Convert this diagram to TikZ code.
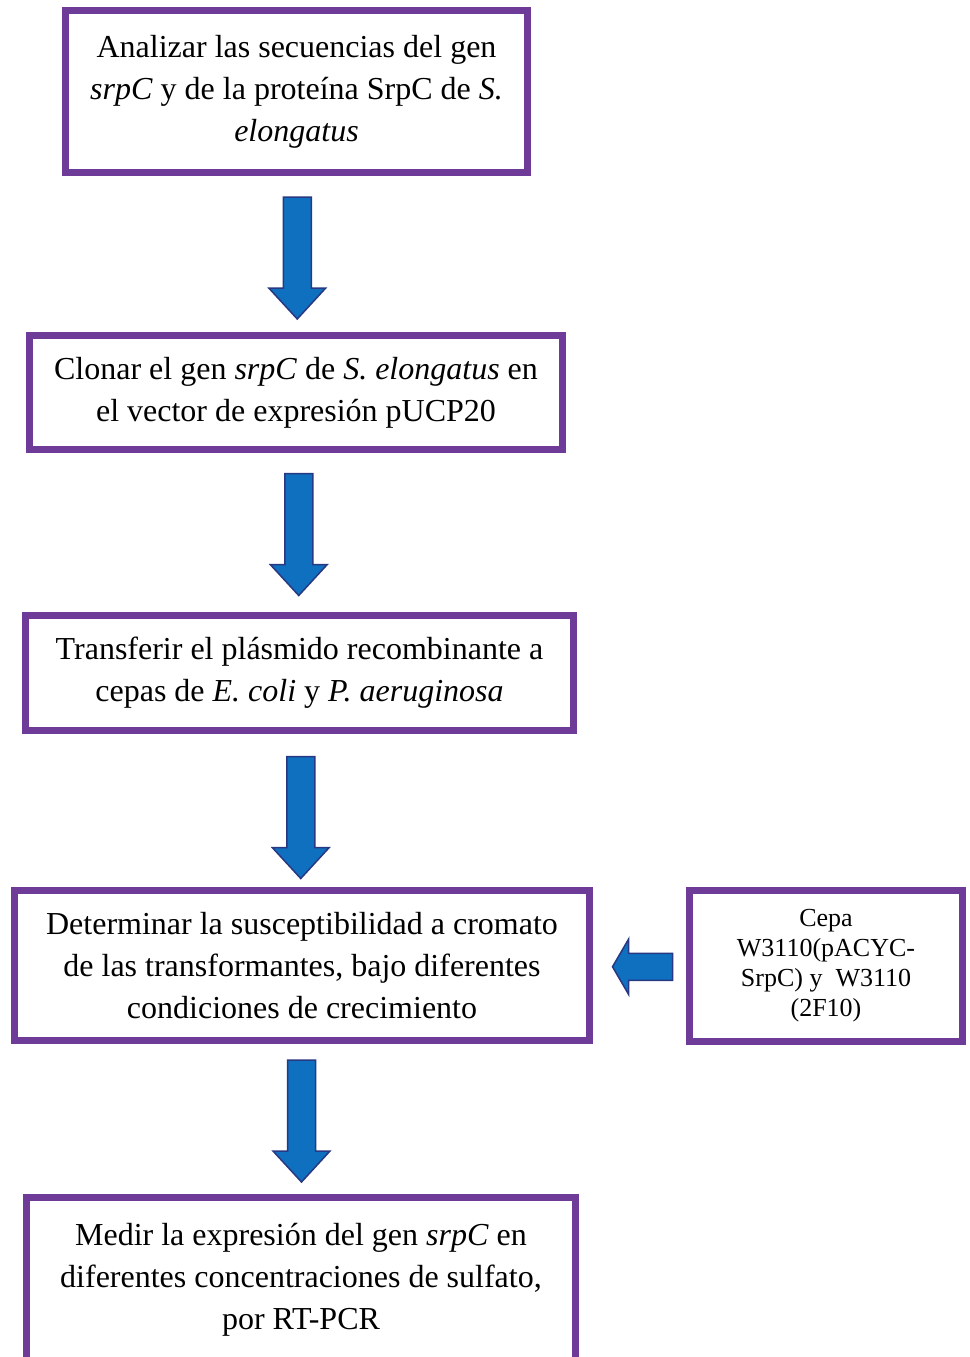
\documentclass[tikz,border=0pt]{standalone}
\usepackage{fontspec}
\setmainfont{Liberation Serif}
\usetikzlibrary{calc}
\definecolor{boxpurple}{RGB}{110,60,152}
\definecolor{arrowblue}{RGB}{14,112,190}
\definecolor{arrowedge}{RGB}{40,56,130}
\tikzset{
  stepbox/.style={draw=boxpurple, line width=7pt, fill=white, align=center, inner sep=0pt, font=\fontsize{32}{42}\selectfont},
  sidebox/.style={stepbox, font=\fontsize{26}{30}\selectfont},
  blockarrow/.style={draw=arrowedge, fill=arrowblue, line width=1.5pt, line join=miter},
  downarrow/.pic={\draw[blockarrow] (-14,-61) -- (14,-61) -- (14,30) -- (28.5,30) -- (0,61) -- (-28.5,30) -- (-14,30) -- cycle;},
  leftarrow/.pic={\draw[blockarrow] (30,-13.5) -- (30,13.5) -- (-14,13.5) -- (-14,27.5) -- (-30,0) -- (-14,-27.5) -- (-14,-13.5) -- cycle;}
}
\begin{document}
\begin{tikzpicture}[x=1pt, y=-1pt]
\useasboundingbox (0,0) rectangle (969,1357);

% steps
\node[stepbox, minimum width=462pt, minimum height=162pt] (box1) at (296.5,91.5)
  {Analizar las secuencias del gen\\ \textit{srpC} y de la proteína SrpC de \textit{S.}\\ \textit{elongatus}};
\node[stepbox, minimum width=533pt, minimum height=114pt] (box2) at (296,392.5)
  {Clonar el gen \textit{srpC} de \textit{S. elongatus} en\\ el vector de expresión pUCP20};
\node[stepbox, minimum width=548pt, minimum height=115pt] (box3) at (299.5,673)
  {Transferir el plásmido recombinante a\\ cepas de \textit{E. coli} y \textit{P. aeruginosa}};
\node[stepbox, minimum width=575pt, minimum height=150pt] (box4) at (302,965.5)
  {Determinar la susceptibilidad a cromato\\ de las transformantes, bajo diferentes\\ condiciones de crecimiento};
\node[sidebox, minimum width=273pt, minimum height=151pt] (box5) at (826,966)
  {Cepa\\ W3110(pACYC-\\ SrpC) y\ \ W3110\\ (2F10)};
\node[stepbox, minimum width=549pt, minimum height=165pt] (box6) at (301,1280)
  {Medir la expresión del gen \textit{srpC} en\\ diferentes concentraciones de sulfato,\\ por RT-PCR};

% arrows
\pic at ($(box1.south)!0.5!(box2.north)+(1,4)$) {downarrow};
\pic at ($(box2.south)!0.5!(box3.north)+(1,2)$) {downarrow};
\pic at ($(box3.south)!0.5!(box4.north)+(0,7)$) {downarrow};
\pic at ($(box4.south)!0.5!(box6.north)+(0,2)$) {downarrow};
\pic at ($(box4.east)!0.5!(box5.west)+(3,1)$) {leftarrow};

\end{tikzpicture}
\end{document}
